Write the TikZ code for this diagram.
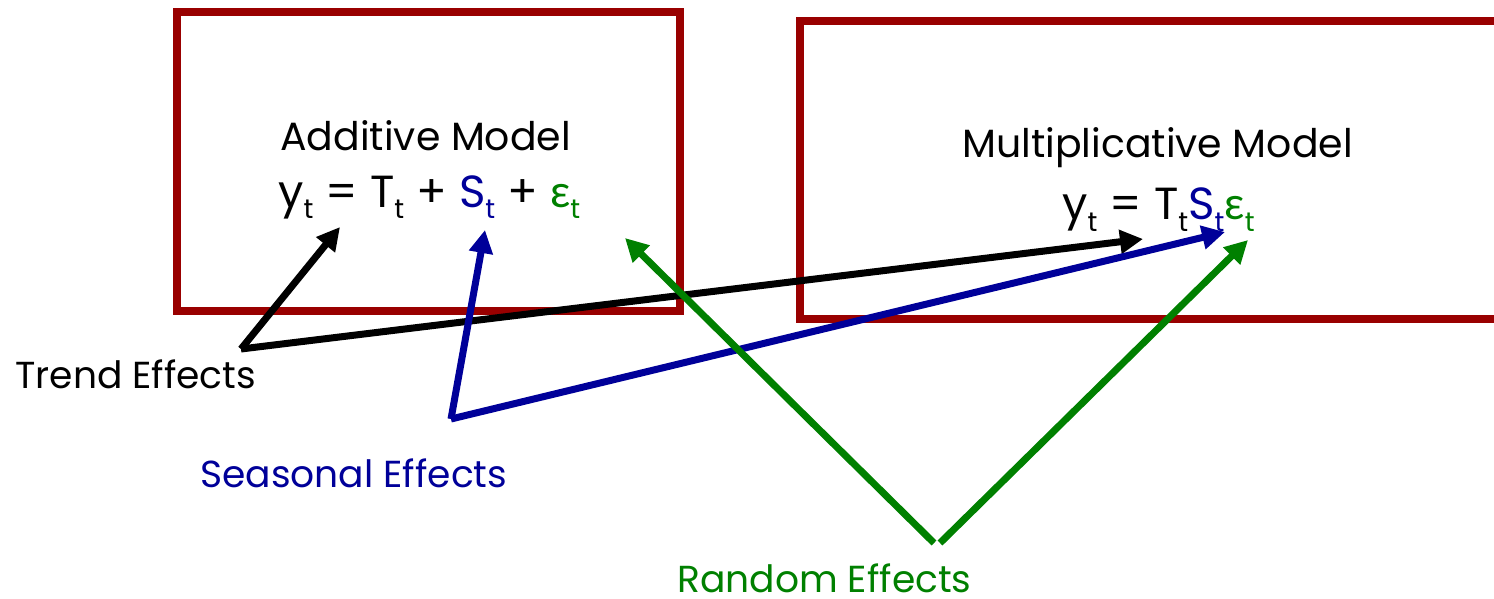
\documentclass[tikz,border=0pt]{standalone}
\usepackage{fontspec}
\setmainfont{Poppins}
\newfontfamily\grk{Lato}
\usetikzlibrary{arrows.meta}
\definecolor{boxred}{HTML}{990000}
\definecolor{sblue}{HTML}{000099}
\definecolor{rgreen}{HTML}{008000}
\newcommand{\subt}{\raisebox{-0.25em}{\scalebox{0.6}{t}}}
\begin{document}
\begin{tikzpicture}[x=0.5pt,y=-0.5pt,
 modelbox/.style={draw=boxred,line width=3.75pt},
 ttl/.style={inner sep=0pt,anchor=base west,font=\fontsize{19.7pt}{22pt}\selectfont},
 frm/.style={inner sep=0pt,anchor=base west,font=\fontsize{22.5pt}{25pt}\selectfont},
 lbl/.style={inner sep=0pt,anchor=base west,font=\fontsize{18.8pt}{22pt}\selectfont},
 conn/.style={line width=3.5pt,-{Triangle[length=11.5pt,width=11.5pt]}}]
\useasboundingbox (0,0) rectangle (1494,599);
\draw[modelbox] (177,12) rectangle (680,311);
\draw[modelbox] (800,21) rectangle (1530,319);
\node[ttl] (addT) at (280,150) {Additive Model};
\node[frm] (addF) at (278,207) {y\subt{} = T\subt{} + \textcolor{sblue}{S\subt} + \textcolor{rgreen}{{\grk ε}\subt}};
\node[ttl] (mulT) at (962,157) {Multiplicative Model};
\node[frm] (mulF) at (1062,220) {y\subt{} = T\subt\textcolor{sblue}{S\subt}\textcolor{rgreen}{{\grk ε}\subt}};
\node[lbl] (trend) at (15,388) {Trend Effects};
\node[lbl,text=sblue] (seas) at (200,487) {Seasonal Effects};
\node[lbl,text=rgreen] (rand) at (677,592) {Random Effects};
\coordinate (tV) at (241,349);
\coordinate (sV) at (451,419);
\coordinate (rV1) at (934,543);
\coordinate (rV2) at (940,543);
\coordinate (tA) at (340,227);
\coordinate (tM) at (1143,239);
\coordinate (sA) at (485,230);
\coordinate (sM) at (1225,232);
\coordinate (rA) at (625,238);
\coordinate (rM) at (1248,240);
\draw[conn] (tV) -- (tA);
\draw[conn] (tV) -- (tM);
\draw[conn,sblue] (sV) -- (sA);
\draw[conn,sblue] (sV) -- (sM);
\draw[conn,rgreen] (rV1) -- (rA);
\draw[conn,rgreen] (rV2) -- (rM);
\end{tikzpicture}
\end{document}
